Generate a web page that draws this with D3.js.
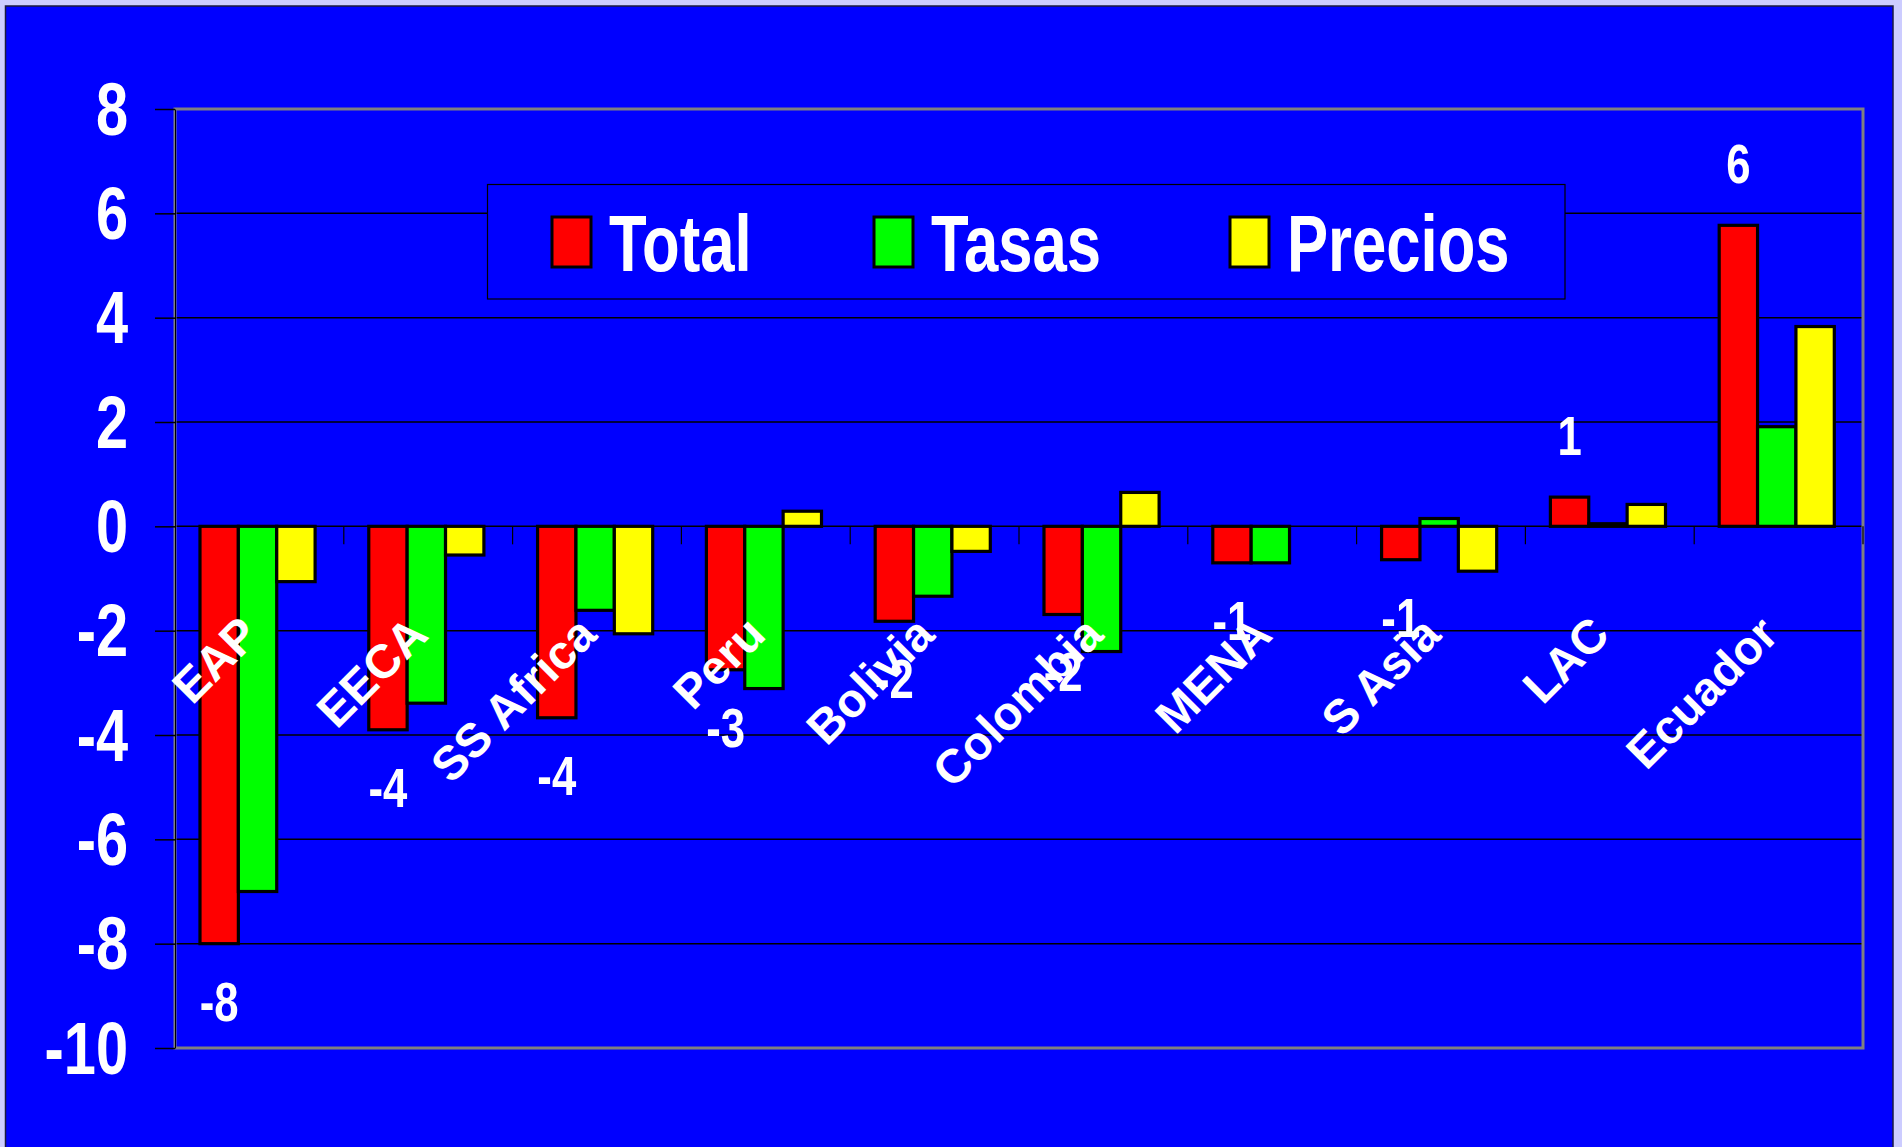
<!DOCTYPE html>
<html><head><meta charset="utf-8">
<script src="https://cdn.jsdelivr.net/npm/d3@7"></script>
<style>html,body{margin:0;padding:0;background:#ccccff;overflow:hidden}svg{display:block}</style>
</head><body>
<svg id="chart" width="1902" height="1147"></svg>
<script>
const categories = ["EAP","EECA","SS Africa","Peru","Bolivia","Colombia","MENA","S Asia","LAC","Ecuador"];
const seriesNames = ["Total","Tasas","Precios"];
const totalValues = [-8.0, -3.9, -3.67, -2.75, -1.82, -1.69, -0.70, -0.64, 0.56, 5.77];
const tasasValues = [-7.0, -3.39, -1.61, -3.11, -1.34, -2.40, -0.70, 0.15, 0.05, 1.91];
const preciosValues = [-1.06, -0.55, -2.06, 0.29, -0.48, 0.65, 0, -0.86, 0.42, 3.83];
const yTickValues = [-10, -8, -6, -4, -2, 0, 2, 4, 6, 8];
const seriesColors = ["#ff0000", "#00ff00", "#ffff00"];

const W = 1902, H = 1147;
const FONT = "'Liberation Sans', Arial, Helvetica, sans-serif";
const SX = 0.78;
const svg = d3.select("#chart");

svg.append("rect").attr("x", 0).attr("y", 0).attr("width", W).attr("height", H).attr("fill", "#ccccff");
svg.append("rect").attr("x", 5.5).attr("y", 6).attr("width", 1887.5).attr("height", 1160)
  .attr("fill", "#0000ff").attr("stroke", "#1a1a40").attr("stroke-width", 1.5);

const plot = {left: 175, top: 109, right: 1863, bottom: 1048};
const y = d3.scaleLinear().domain([-10, 8]).range([plot.bottom, plot.top]);
const x0 = d3.scaleBand().domain(categories).range([plot.left, plot.right]).padding(0);
const bw = x0.bandwidth();
const x1 = d3.scaleBand().domain(seriesNames).range([bw * 0.148, bw * 0.83]).padding(0);

const rows = categories.map((c, i) => ({
  cat: c,
  vals: [totalValues[i], tasasValues[i], preciosValues[i]]
}));

// gridlines
svg.append("g").selectAll("line")
  .data(yTickValues.filter(v => v > -10 && v < 8)).join("line")
  .attr("x1", plot.left).attr("x2", plot.right)
  .attr("y1", d => y(d)).attr("y2", d => y(d))
  .attr("stroke", "#000").attr("stroke-width", 1.5);

// plot border
svg.append("rect").attr("x", plot.left).attr("y", plot.top)
  .attr("width", plot.right - plot.left).attr("height", plot.bottom - plot.top)
  .attr("fill", "none").attr("stroke", "#808080").attr("stroke-width", 3);

// y axis
const yAxis = d3.axisLeft(y).tickValues(yTickValues).tickSize(20).tickSizeOuter(0).tickFormat(d => String(d));
const gy = svg.append("g").attr("transform", `translate(${plot.left},0)`).call(yAxis);
gy.select(".domain").attr("stroke", "#000").attr("stroke-width", 1);
gy.selectAll(".tick line").attr("stroke", "#000").attr("stroke-width", 1.5);
gy.selectAll(".tick text")
  .attr("fill", "#fff").attr("font-family", FONT).attr("font-weight", "bold").attr("font-size", 74)
  .attr("transform", `scale(${SX},1)`).attr("x", -(plot.left - 128) / SX).attr("dy", "0.34em");

// category tick marks under the zero line
svg.append("g").selectAll("line").data(categories).join("line")
  .attr("x1", d => x0(d) + bw).attr("x2", d => x0(d) + bw)
  .attr("y1", y(0)).attr("y2", y(0) + 18)
  .attr("stroke", "#000").attr("stroke-width", 1.2);

// legend
const legend = svg.append("g");
legend.append("rect").attr("x", 487.5).attr("y", 184.5).attr("width", 1077.5).attr("height", 114.5)
  .attr("fill", "#0000ff").attr("stroke", "#000").attr("stroke-width", 1.2);
const legendX = [552, 874, 1230];
seriesNames.forEach((s, i) => {
  legend.append("rect").attr("x", legendX[i]).attr("y", 217).attr("width", 39).attr("height", 50)
    .attr("fill", seriesColors[i]).attr("stroke", "#000").attr("stroke-width", 3);
  legend.append("text").text(s)
    .attr("transform", `translate(${legendX[i] + 57},271) scale(${SX},1)`)
    .attr("fill", "#fff").attr("font-family", FONT).attr("font-weight", "bold").attr("font-size", 79);
});

// bars
const groups = svg.append("g").selectAll("g").data(rows).join("g")
  .attr("transform", d => `translate(${x0(d.cat)},0)`);
groups.selectAll("rect")
  .data(d => d.vals.map((v, j) => ({key: seriesNames[j], v, j})).filter(e => e.v !== 0))
  .join("rect")
  .attr("x", e => x1(e.key)).attr("width", x1.bandwidth())
  .attr("y", e => y(Math.max(0, e.v)))
  .attr("height", e => Math.abs(y(e.v) - y(0)))
  .attr("fill", e => seriesColors[e.j]).attr("stroke", "#000").attr("stroke-width", 3.2);

// category labels
svg.append("g").selectAll("text").data(categories).join("text")
  .text(d => d)
  .attr("transform", d => `translate(${x0(d) + bw / 2 + 2},637) rotate(-45)`)
  .attr("text-anchor", "end")
  .attr("fill", "#fff").attr("font-family", FONT).attr("font-weight", "bold").attr("font-size", 47.5);

// data labels for Total
svg.append("g").selectAll("text").data(rows).join("text")
  .text(d => String(Math.round(d.vals[0])))
  .attr("transform", d => {
    const cx = x0(d.cat) + x1("Total") + x1.bandwidth() / 2;
    const v = d.vals[0];
    const cy = v >= 0 ? y(v) - 62 : y(v) + 57;
    return `translate(${cx},${cy + 20}) scale(${SX},1)`;
  })
  .attr("text-anchor", "middle")
  .attr("fill", "#fff").attr("font-family", FONT).attr("font-weight", "bold").attr("font-size", 56);
</script>
</body></html>
